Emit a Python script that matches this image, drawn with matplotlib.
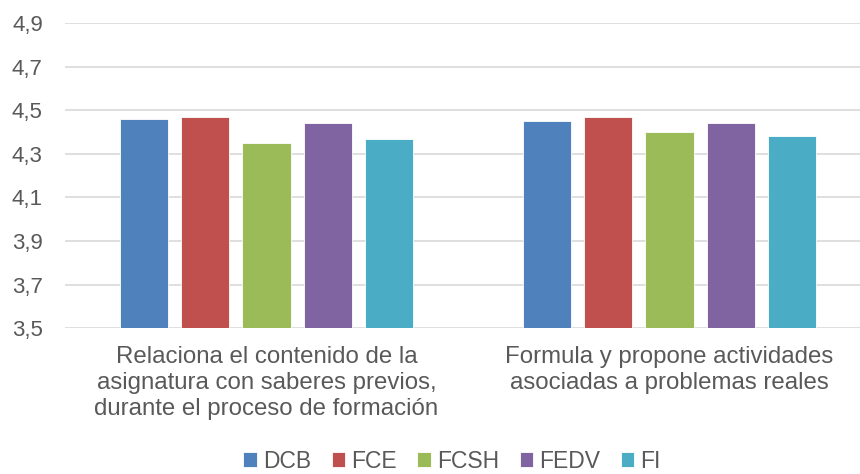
import numpy as np
import matplotlib.pyplot as plt

plt.rcParams['font.family'] = ['Liberation Sans', 'DejaVu Sans']

categories = ['Relaciona el contenido de la\nasignatura con saberes previos,\ndurante el proceso de formación',
              'Formula y propone actividades\nasociadas a problemas reales']
series = ['DCB', 'FCE', 'FCSH', 'FEDV', 'FI']
values = {
    'DCB': [4.46, 4.45],
    'FCE': [4.47, 4.47],
    'FCSH': [4.35, 4.40],
    'FEDV': [4.44, 4.44],
    'FI': [4.37, 4.38],
}
colors = ['#4F81BD', '#C0504D', '#9BBB59', '#8064A2', '#4BACC6']
yticks = [3.5, 3.7, 3.9, 4.1, 4.3, 4.5, 4.7, 4.9]

fig = plt.figure(figsize=(8.6, 4.74), dpi=100)
ax = fig.add_axes([65 / 860, 1 - 328.3 / 474, 806 / 860, 305.3 / 474])

x = np.arange(len(categories))
step = 0.152
width = 0.12
for i, s in enumerate(series):
    ax.bar(x + (i - 2) * step, values[s], width, color=colors[i], label=s,
           edgecolor='white', linewidth=0.6, zorder=3)

ax.set_ylim(3.5, 4.9)
ax.set_xlim(-0.5, 1.5)
ax.set_yticks(yticks)
ax.set_yticklabels([f'{t:.1f}'.replace('.', ',') for t in yticks])
ax.yaxis.grid(True, color='#D9D9D9', linewidth=1.2, zorder=0)
ax.set_axisbelow(True)
for sp in ax.spines.values():
    sp.set_visible(False)
ax.tick_params(axis='y', length=0, pad=16, labelsize=16, labelcolor='#595959')
ax.set_xticks(x)
ax.set_xticklabels(categories, fontsize=17.3, color='#595959', linespacing=1.24)
ax.tick_params(axis='x', length=0, pad=12.5)

fig.legend(loc='center', bbox_to_anchor=(452 / 860, 1 - 461 / 474), ncol=5, frameon=False,
           fontsize=16.5, handlelength=0.6, handleheight=0.6, handletextpad=0.25,
           columnspacing=0.9, labelcolor='#595959')

fig.savefig('out.png', dpi=100)
